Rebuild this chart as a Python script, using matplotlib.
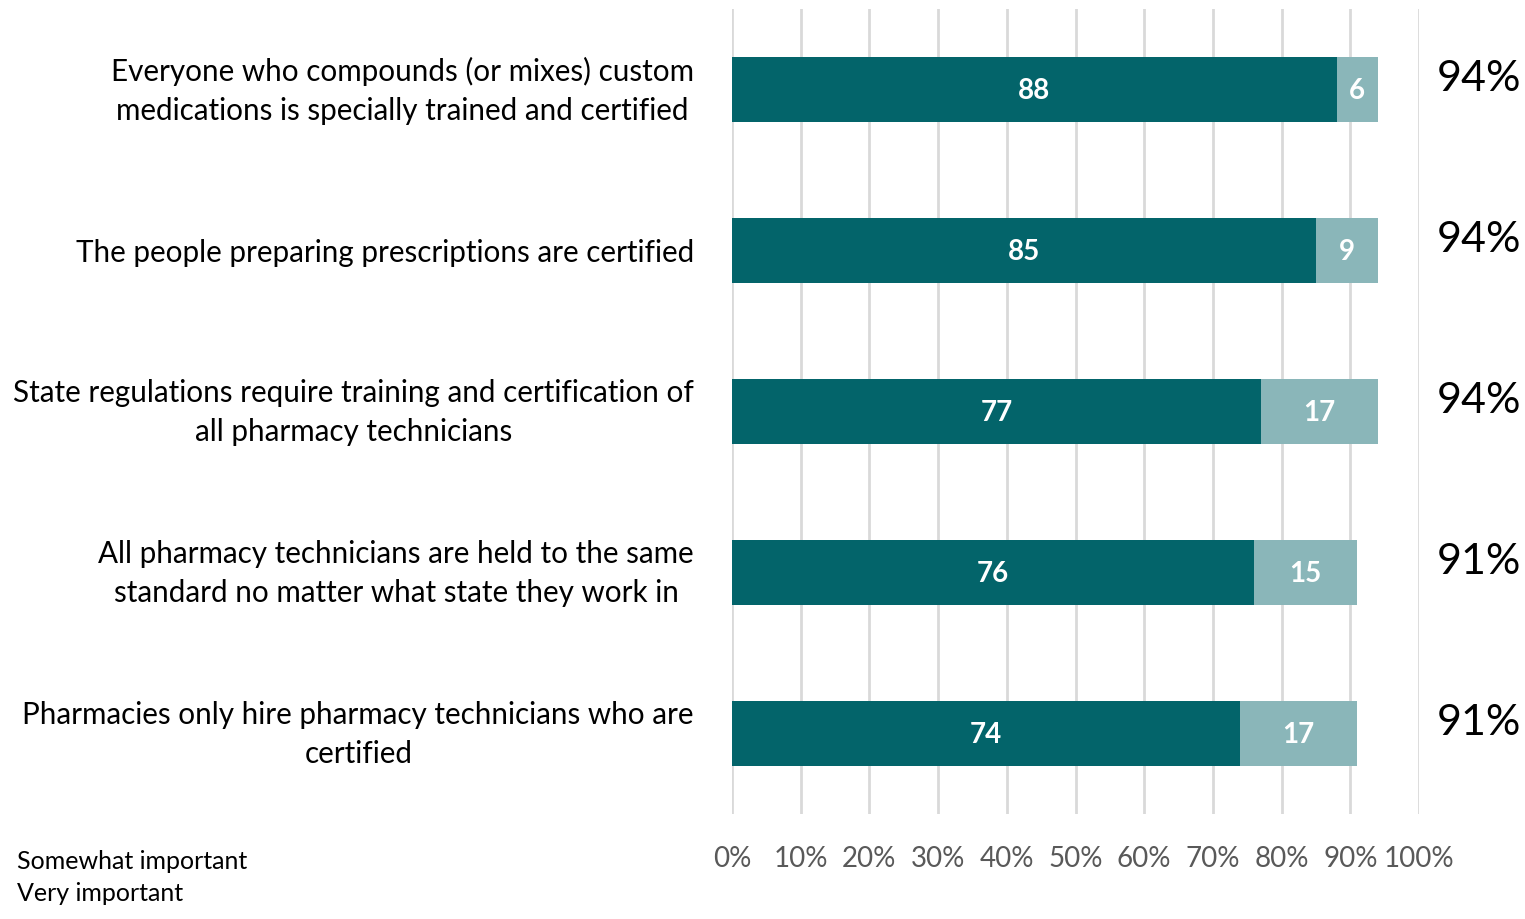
import matplotlib
matplotlib.use("Agg")
import matplotlib.pyplot as plt
from matplotlib.transforms import ScaledTranslation

categories = [
    "Everyone who compounds (or mixes) custom\nmedications is specially trained and certified",
    "The people preparing prescriptions are certified",
    "State regulations require training and certification of\nall pharmacy technicians",
    "All pharmacy technicians are held to the same\nstandard no matter what state they work in",
    "Pharmacies only hire pharmacy technicians who are\ncertified",
]
very_important = [88, 85, 77, 76, 74]
somewhat_important = [6, 9, 17, 15, 17]
totals = ["94%", "94%", "94%", "91%", "91%"]
tick_vals = list(range(0, 101, 10))
tick_labels = [f"{v}%" for v in tick_vals]
legend_labels = ["Somewhat important", "Very important"]

dark = "#03646A"
light = "#8AB6B9"
font = "Lato"
plt.rcParams['font.family'] = [font, 'DejaVu Sans']

fig = plt.figure(figsize=(15.25, 9.2), dpi=100)
ax = fig.add_axes([0.48, 0.114, 0.4505, 0.875])

y = list(range(len(categories)))
ax.barh(y, very_important, height=0.4, color=dark, zorder=3)
ax.barh(y, somewhat_important, left=very_important, height=0.4, color=light, zorder=3)

for i in y:
    ax.text(very_important[i] / 2, i, str(very_important[i]), ha='center', va='center',
            color='white', fontsize=20, fontweight='bold', zorder=4)
    ax.text(very_important[i] + somewhat_important[i] / 2, i, str(somewhat_important[i]),
            ha='center', va='center', color='white', fontsize=20, fontweight='bold', zorder=4)
    ax.text(102.6, i - 0.07, totals[i], ha='left', va='center', fontsize=31, color='black')

ax.set_xlim(0, 100)
ax.set_ylim(4.5, -0.5)
ax.set_xticks(tick_vals)
ax.set_xticklabels(tick_labels, fontsize=20, color='#595959')
ax.set_yticks(y)
ax.set_yticklabels([])
ax.tick_params(axis='both', length=0)
ax.tick_params(axis='x', pad=22)
ax.grid(axis='x', color='#D9D9D9', linewidth=2, zorder=0)
ax.set_axisbelow(True)
for s in ax.spines.values():
    s.set_visible(False)

base = ax.get_yaxis_transform()
for i, cat in enumerate(categories):
    dy = 0.0 if "\n" in cat else -0.01
    tr = base + ScaledTranslation(-38 / 100, dy, fig.dpi_scale_trans)
    ax.text(0, i, cat, transform=tr, ha='right', va='center', multialignment='center',
            fontsize=21.3, linespacing=1.48, color='black')

fig.text(17 / 1525, 1 - 862 / 920, legend_labels[0], fontsize=18, va='center', ha='left')
fig.text(17 / 1525, 1 - 894 / 920, legend_labels[1], fontsize=18, va='center', ha='left')

fig.savefig("out.png", dpi=100, facecolor='white')
